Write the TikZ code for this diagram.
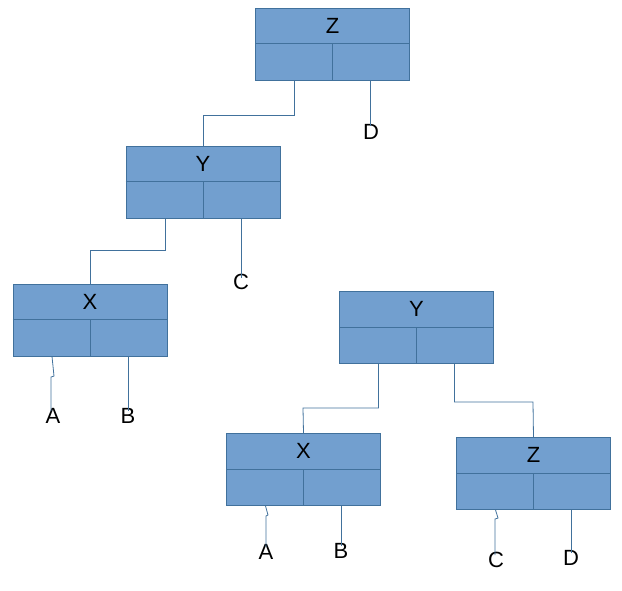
\documentclass[tikz,border=0pt]{standalone}
\usepackage{fontspec}
\setmainfont{Liberation Sans}
\definecolor{boxfill}{RGB}{114,159,207}
\definecolor{boxline}{RGB}{65,113,156}
\tikzset{
  treebox/.style={draw=boxline,fill=boxfill,minimum width=154pt,minimum height=72pt,inner sep=0pt,line width=0.8pt},
  leaf/.style={inner sep=0pt,font=\fontsize{22}{26}\selectfont},
  link/.style={draw=boxline,line width=0.8pt}
}
% box with name, center, title and divider
\newcommand{\treenode}[3]{%
  \node[treebox] (#1) at (#2) {};
  \draw[boxline,line width=0.8pt] ([yshift=-36pt]#1.north west) -- ([yshift=-36pt]#1.north east)
    (#1.south) -- ([yshift=-36pt]#1.north);
  \node[leaf] (#1t) at ([yshift=-18pt]#1.north) {#3};
  \coordinate (#1l) at ([xshift=-38pt]#1.south);
  \coordinate (#1r) at ([xshift=38pt]#1.south);
}
\begin{document}
\begin{tikzpicture}[x=1pt,y=-1pt]
	\useasboundingbox (0,0) rectangle (622,590);
	\treenode{Za}{332.5,44}{Z}
	\treenode{Ya}{203,182}{Y}
	\treenode{Xa}{90,320}{X}
	\treenode{Yb}{416.5,327.5}{Y}
	\treenode{Xb}{303.5,469.5}{X}
	\treenode{Zb}{533.5,473.5}{Z}
	\node[leaf] (Da) at (371,132) {D};
	\node[leaf] (Ca) at (241,282) {C};
	\node[leaf] (Aa) at (53,416) {A};
	\node[leaf] (Ba) at (128,416) {B};
	\node[leaf] (Ab) at (266,552) {A};
	\node[leaf] (Bb) at (341,551) {B};
	\node[leaf] (Cb) at (496,560) {C};
	\node[leaf] (Db) at (571,558) {D};
	\draw[link] (Zal) |- (203,115) -- (Ya.north);
	\draw[link] (Zar) -- ([yshift=-2pt]Da.north -| Zar);
	\draw[link] (Yal) |- (90,250) -- (Xa.north);
	\draw[link] (Yar) -- ([yshift=-4pt]Ca.north -| Yar);
	\draw[link] (Xal) -- (54,376) -- (51,377) -- ([yshift=-3pt]Aa.north -| 51,0);
	\draw[link] (Xar) -- ([yshift=-3pt]Ba.north -| Xar);
	\draw[link] (Ybl) |- (303,408) -- (Xb.north);
	\draw[link] (Ybr) |- (533,402) -- (Zb.north);
	\draw[link] (Xbl) -- (268,515) -- (266,516) -- ([yshift=-3pt]Ab.north);
	\draw[link] (Xbr) -- ([yshift=-3pt]Bb.north -| Xbr);
	\draw[link] (Zbl) -- (498,518) -- (495,519) -- ([yshift=-3pt]Cb.north -| 495,0);
	\draw[link] (Zbr) -- ([yshift=-3pt]Db.north -| Zbr);
\end{tikzpicture}
\end{document}
